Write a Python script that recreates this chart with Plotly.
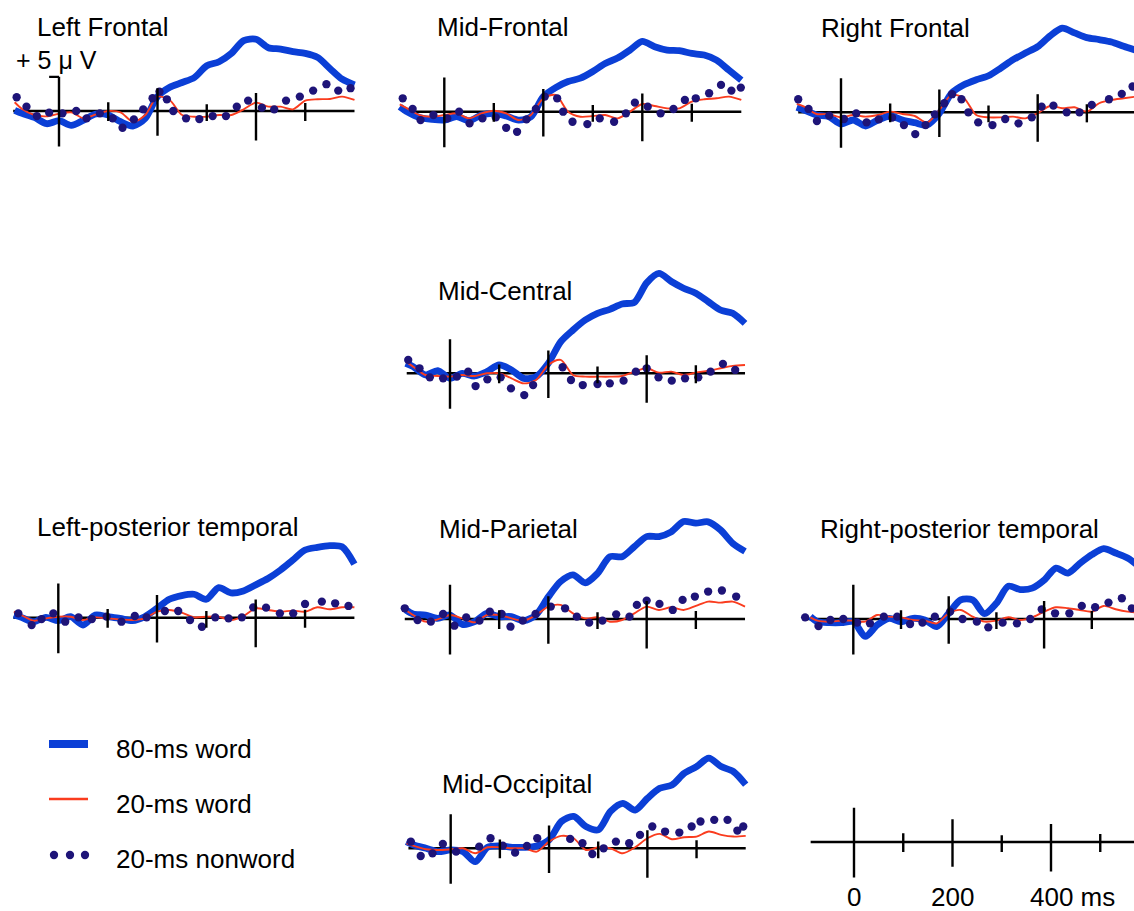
import plotly.graph_objects as go

W, H = 1134, 911
FONT = "Liberation Sans, Arial, Helvetica, sans-serif"
BLUE = "#0b3fd6"
RED = "#fa3c1e"
NAVY = "#1e1478"

# ---------------- data (ms, microvolts; positive up) ----------------
T = [-90, -75, -50, -25, 0, 25, 50, 75, 100, 125, 150, 175, 200, 225, 250, 275,
     300, 325, 350, 375, 400, 425, 450, 475, 500, 525, 550, 575, 600]

LF_80 = [0.1, -0.35, -0.95, -1.9, -1.45, -2.15, -1.35, -0.45, -0.6, -1.6, -2.25, -1.1, 2.15, 3.55, 4.25,
         5.0, 6.75, 7.35, 8.6, 10.5, 10.7, 9.45, 9.25, 8.85, 8.6, 8.0, 6.35, 4.75, 3.9]
LF_20 = [1.3, 0.3, -0.6, -0.8, -0.4, -0.2, -1.1, -0.5, 0.0, -0.2, -1.6, -0.6, 2.15, 1.6, -0.6,
         -0.85, -0.85, -0.6, -0.6, 0.25, 1.25, 0.65, 0.65, 0.25, 1.55, 1.75, 1.8, 2.15, 1.65]
LF_NW_T = [-86, -66, -45, -20, 7, 35, 56, 83, 109, 129, 152, 171, 190, 204, 219, 232, 258, 285, 312, 339,
           361, 384, 412, 437, 461, 489, 516, 543, 567, 592]
LF_NW_V = [2.05, 0.65, -0.75, -0.25, -0.35, 0, -1.1, -0.35, -1.1, -2.5, -1.25, 0.25, 1.9, 2.9, 1.75, 0,
           -1.1, -1.2, -0.75, -0.75, 0.65, 1.55, 0.5, 0.25, 1.55, 2.15, 3.05, 4.0, 3.05, 3.4]

MF_80 = [0.75, 0.0, -0.85, -1.15, -1.25, -0.75, -1.35, -0.5, -0.25, -0.65, -1.25, -0.75, 2.25, 3.6, 4.5,
         5.0, 6.0, 7.2, 8.0, 9.2, 10.5, 9.7, 9.2, 9.1, 8.7, 8.45, 7.7, 6.2, 4.7]
MF_20 = [1.1, 0.5, -0.5, -0.75, -0.5, -0.25, -1.0, -0.25, 0.15, -0.25, -1.25, -0.5, 2.0, 2.5, 0.0,
         -0.75, -0.65, -0.5, -1.0, 0.0, 1.15, 0.85, 0.5, 0.5, 1.5, 1.85, 2.0, 2.25, 1.75]
MF_NW_T = [-84, -64, -48, -22, 6, 30, 51, 77, 104, 125, 147, 166, 185, 203, 228, 240, 259, 289, 314, 343,
           367, 385, 411, 437, 463, 486, 508, 535, 559, 580, 599]
MF_NW_V = [2.0, 0.4, -1.25, -0.5, -1.0, 0, -1.75, -1.0, -0.85, -2.4, -3.0, -1.15, 0.4, 2.25, 2.0, 0,
           -1.5, -1.85, -1.0, -1.5, -0.25, 1.35, 0.75, -0.25, 0.4, 1.75, 2.0, 2.75, 4.0, 3.15, 3.6]

RF_80 = [0.75, 0.35, -0.4, -0.65, -1.75, -1.15, -2.05, -1.15, -0.55, -1.15, -1.55, -1.9, -0.15, 2.85, 4.1,
         4.85, 5.45, 6.6, 7.85, 8.85, 9.8, 11.4, 12.55, 11.85, 11.15, 10.85, 10.5, 9.85, 9.25]
RF_20 = [1.25, 0.85, -0.25, -0.25, -0.75, -0.4, -0.65, -0.4, 0.1, -0.25, -0.55, -1.55, 0.35, 2.6, 2.1,
         -0.4, -0.75, -0.75, -0.65, -0.9, -0.15, 0.95, 0.6, 0.75, 0.1, 1.35, 1.85, 2.1, 2.35]
RF_NW_T = [-87, -66, -49, -24, 6, 31, 52, 77, 104, 128, 151, 172, 191, 210, 226, 245, 259, 279, 308, 334,
           361, 388, 408, 432, 459, 485, 510, 545, 571, 593]
RF_NW_V = [1.95, 0.5, -1.3, -0.5, -1.0, -0.15, -1.5, -1.05, -0.8, -1.9, -3.25, -1.9, -0.3, 1.35, 2.7, 1.95,
           0, -1.5, -1.9, -1.0, -1.65, -0.75, 0.85, 1.0, 0, 0, 1.1, 1.95, 2.75, 3.85]

MC_80 = [1.5, 1.0, -0.25, 0.4, -0.75, 0.0, -0.4, 0.25, 1.25, 0.5, -0.75, -0.5, 1.5, 4.7, 6.45,
         7.95, 8.95, 9.55, 10.35, 10.6, 13.5, 14.9, 13.7, 12.7, 11.95, 10.7, 9.45, 8.95, 7.45]
MC_20 = [1.75, 1.0, -0.25, -0.4, -0.5, -0.25, -0.4, 0, 0, -0.75, -1.5, -1.0, 1.25, 2.0, -0.25,
         -0.5, -0.5, -0.5, -0.4, 0.25, 0.75, 0.1, 0.25, -0.25, 0.1, 0.4, 0.75, 1.1, 1.25]
MC_NW_T = [-85, -62, -41, -14, 14, 37, 52, 76, 103, 124, 151, 169, 229, 246, 270, 300, 325, 353, 378, 400,
           424, 451, 478, 505, 530, 555, 580]
MC_NW_V = [2.0, 0.75, -0.6, -0.75, -0.5, 0.25, -1.9, -0.9, -0.6, -2.25, -3.25, -1.75, 0.9, -1.0, -1.75,
           -1.6, -1.5, -1.1, 0.25, 0.75, -0.6, -1.1, -0.75, -0.6, 0.25, 1.4, 0.5]

LPT_80 = [0.4, 0.05, -0.6, 0.05, -0.45, 0.15, -1.1, 0.4, 0.15, -0.1, -0.45, 0.15, 1.4, 2.75, 3.3,
          3.5, 2.75, 4.5, 3.7, 4.0, 4.9, 5.85, 7.1, 8.6, 10.1, 10.5, 10.75, 10.6, 8.0]
LPT_20 = [0.9, 0.4, -0.45, -0.1, 0.15, 0.15, -0.35, 0.05, -0.1, -0.25, -0.35, -0.1, 0.9, 1.15, 0.75,
          0.05, 0.15, 0.15, -0.35, 0.25, 1.4, 1.15, 0.9, 1.05, 0.9, 1.55, 1.25, 1.55, 1.55]
LPT_NW_T = [-81, -54, -34, -10, 14, 41, 68, 98, 128, 155, 179, 216, 243, 267, 291, 318, 345, 372, 395, 421,
            449, 476, 500, 534, 561, 588]
LPT_NW_V = [0.65, -1.1, -0.2, 0.65, -0.6, 0.05, -0.2, 0.15, -0.6, 0.25, 0.05, 1.0, 1.0, -0.35, -1.35, 0.05,
            -0.1, 0.05, 1.55, 1.5, 0.65, 0.65, 2.05, 2.4, 2.15, 1.75]

MP_80 = [1.35, 0.75, 0.6, 0.1, 0.6, -0.8, -0.4, 0.85, 0.35, 0.35, -0.25, 0.6, 3.3, 5.6, 6.6,
         5.4, 6.8, 9.3, 9.3, 10.8, 12.3, 12.3, 13.0, 14.55, 14.3, 14.5, 13.3, 11.3, 10.1]
MP_20 = [1.35, 0.6, -0.4, -0.05, 0.6, 0.1, -0.5, 0.6, 0.6, 0.1, -0.25, 0.6, 1.85, 2.1, 0.85,
         0.1, 0.25, -0.4, -0.15, 0.85, 1.85, 1.35, 1.75, 1.35, 1.95, 2.6, 2.45, 2.6, 1.85]
MP_NW_T = [-92, -66, -39, -14, 9, 33, 60, 81, 105, 123, 148, 174, 205, 234, 258, 283, 310, 338, 365, 380,
           400, 426, 453, 473, 498, 525, 553, 582]
MP_NW_V = [1.6, -0.15, -0.4, 0.75, -1.0, 0.25, -0.25, 1.1, 0.75, -1.15, -0.25, 0.75, 1.85, 1.6, 0.35,
           -0.55, -0.25, 0.7, 0.35, 2.1, 2.75, 2.25, 1.35, 2.85, 3.35, 4.1, 4.25, 3.35]

RPT_80 = [0.35, -0.4, -0.55, -0.55, -0.4, -2.6, -0.9, 0.1, -0.4, 0.1, -0.15, -1.15, 0.85, 2.85, 2.85,
          0.8, 2.35, 4.9, 4.4, 4.6, 5.8, 7.6, 6.85, 8.3, 9.6, 10.5, 9.85, 9.1, 7.8]
RPT_20 = [0.25, -0.25, -0.4, -0.25, -0.25, -0.4, 0.6, 0.35, 0.25, -0.15, -0.25, -0.65, 0.85, 1.35, 0.35,
          -0.4, -0.25, 0.25, -0.15, 0.25, 1.1, 1.75, 1.6, 1.35, 1.1, 1.95, 1.45, 1.1, 0.95]
RPT_NW_T = [-101, -73, -48, -21, 8, 35, 64, 92, 119, 145, 171, 203, 229, 259, 283, 313, 343, 371, 395, 423,
            453, 479, 507, 535, 563, 584]
RPT_NW_V = [0.25, -1.05, -0.15, 0, -0.55, -0.65, 0.35, 0.35, -0.75, -0.55, 0.35, 1.1, 0, -0.4, -1.25,
            -0.55, -0.65, 0, 1.45, 0.85, 0.85, 1.95, 1.75, 2.45, 3.1, 1.6]

MO_80 = [1.0, 0.5, 0.0, -0.5, -0.25, -0.5, -2.0, 0.15, 0.35, 0.15, 0.15, 0.35, 1.25, 4.0, 4.75,
         3.25, 2.75, 5.5, 6.7, 5.7, 7.45, 8.95, 9.45, 11.2, 12.2, 13.45, 12.2, 11.45, 9.5]
MO_20 = [0.75, 0.35, -0.15, -0.25, -0.15, 0, -0.75, 0.15, 0.15, 0, 0, -0.5, 1.0, 1.85, 1.5,
         -0.25, 0.15, 0, -0.75, 0.15, 1.5, 2.15, 1.35, 1.65, 1.75, 2.5, 2.0, 1.75, 1.85]
MO_NW_T = [-81, -61, -37, -16, 11, 58, 81, 106, 131, 155, 176, 243, 268, 288, 311, 336, 363, 385, 410, 436,
           465, 490, 508, 536, 563, 583, 595]
MO_NW_V = [1.0, -1.15, -0.75, 0.65, -0.5, 0.25, 1.5, 0.4, -0.65, 0.35, 1.5, 1.4, 0.75, -0.85, 0, 1.0,
           0.75, 2.0, 3.25, 2.5, 2.35, 3.25, 4.0, 4.25, 4.25, 2.65, 3.25]

TITLES = ["Left Frontal", "Mid-Frontal", "Right Frontal", "Mid-Central",
          "Left-posterior temporal", "Mid-Parietal", "Right-posterior temporal", "Mid-Occipital"]
SERIES_NAMES = ["80-ms word", "20-ms word", "20-ms nonword"]
TICK_MS = [0, 100, 200, 300, 400, 500]
TICK_LO = [-5.3, -1.5, -3.7, -1.5, -4.4, -1.5]
TICK_HI = [5.1, 1.3, 3.4, 1.0, 2.7, 1.2]
SCALE_LABELS = ["0", "200", "400 ms"]
CAL_LABEL = "+ 5 \u03bc V"

PANEL_DATA = [
    (LF_80, LF_20, LF_NW_T, LF_NW_V),
    (MF_80, MF_20, MF_NW_T, MF_NW_V),
    (RF_80, RF_20, RF_NW_T, RF_NW_V),
    (MC_80, MC_20, MC_NW_T, MC_NW_V),
    (LPT_80, LPT_20, LPT_NW_T, LPT_NW_V),
    (MP_80, MP_20, MP_NW_T, MP_NW_V),
    (RPT_80, RPT_20, RPT_NW_T, RPT_NW_V),
    (MO_80, MO_20, MO_NW_T, MO_NW_V),
]

# ---------------- layout geometry (pixels) ----------------
PXUV = 6.7  # pixels per microvolt
# (x pixel of t=0, y pixel of baseline, px per ms, axis start ms, title left px, title centre y px)
GEOM = [
    (59.0, 111.0, 0.4925, -93, 35, 27),
    (444.3, 111.7, 0.495, -84, 435, 27),
    (841.0, 112.3, 0.4917, -87, 819, 27.5),
    (450.0, 373.3, 0.4917, -88, 436, 291),
    (58.3, 617.7, 0.4935, -91, 35, 526.5),
    (450.0, 619.0, 0.4917, -92, 437, 528.5),
    (853.3, 619.0, 0.477, -106, 818, 528.5),
    (450.7, 848.3, 0.4917, -86, 440, 784),
]
SCALE_GEOM = (854.0, 842.0, 0.4925, -88)

fig = go.Figure()
layout = dict(width=W, height=H, margin=dict(l=0, r=0, t=0, b=0),
              paper_bgcolor="white", plot_bgcolor="rgba(0,0,0,0)", showlegend=False,
              font=dict(family=FONT, size=26, color="black"))
shapes = []
annotations = []


def add_axes(idx, x0, yb, s):
    left_px = max(0.0, x0 - 125 * s)
    right_px = min(W, x0 + 625 * s)
    top_px = max(0.0, yb - 17 * PXUV)
    bot_px = min(H, yb + 8 * PXUV)
    sfx = "" if idx == 1 else str(idx)
    layout["xaxis" + sfx] = dict(domain=[left_px / W, right_px / W],
                                 range=[(left_px - x0) / s, (right_px - x0) / s],
                                 visible=False, fixedrange=True, anchor="y" + sfx)
    layout["yaxis" + sfx] = dict(domain=[1 - bot_px / H, 1 - top_px / H],
                                 range=[(yb - bot_px) / PXUV, (yb - top_px) / PXUV],
                                 visible=False, fixedrange=True, anchor="x" + sfx)
    return "x" + sfx, "y" + sfx


def add_time_axis(xr, yr, start):
    shapes.append(dict(type="line", xref=xr, yref=yr, x0=start, x1=600, y0=0, y1=0,
                       line=dict(color="black", width=2.5), layer="below"))
    for tm, lo, hi in zip(TICK_MS, TICK_LO, TICK_HI):
        shapes.append(dict(type="line", xref=xr, yref=yr, x0=tm, x1=tm, y0=lo, y1=hi,
                           line=dict(color="black", width=2.4)))


for i, ((w80, w20, nwt, nwv), (x0, yb, s, start, tx, ty), title) in enumerate(zip(PANEL_DATA, GEOM, TITLES), start=1):
    xr, yr = add_axes(i, x0, yb, s)
    add_time_axis(xr, yr, start)
    fig.add_trace(go.Scatter(x=T, y=w80, mode="lines", xaxis=xr, yaxis=yr, name=SERIES_NAMES[0],
                             line=dict(color=BLUE, width=6.8, shape="spline", smoothing=0.8)))
    fig.add_trace(go.Scatter(x=T, y=w20, mode="lines", xaxis=xr, yaxis=yr, name=SERIES_NAMES[1],
                             line=dict(color=RED, width=1.9, shape="spline", smoothing=0.8)))
    fig.add_trace(go.Scatter(x=nwt, y=nwv, mode="markers", xaxis=xr, yaxis=yr, name=SERIES_NAMES[2],
                             marker=dict(color=NAVY, size=8.3, line=dict(width=0))))
    annotations.append(dict(text=title, xref="paper", yref="paper", x=tx / W, y=1 - ty / H,
                            xanchor="left", yanchor="middle", showarrow=False,
                            font=dict(family=FONT, size=26, color="black")))
    if i == 1:
        # calibration flag on the zero tick
        shapes.append(dict(type="line", xref=xr, yref=yr, x0=-20, x1=0, y0=TICK_HI[0], y1=TICK_HI[0],
                           line=dict(color="black", width=2.4)))
        annotations.append(dict(text=CAL_LABEL, xref="paper", yref="paper", x=14 / W, y=1 - 60 / H,
                                xanchor="left", yanchor="middle", showarrow=False,
                                font=dict(family=FONT, size=25, color="black")))

# scale panel
sx0, syb, ss, sstart = SCALE_GEOM
xr, yr = add_axes(9, sx0, syb, ss)
add_time_axis(xr, yr, sstart)
for tm, lab in zip([0, 200, 400], SCALE_LABELS):
    last = lab == SCALE_LABELS[-1]
    annotations.append(dict(text=lab, xref=xr, yref="paper", x=tm, y=1 - 897 / H,
                            xanchor="left" if last else "center",
                            xshift=-23 if last else 0,
                            yanchor="middle", showarrow=False,
                            font=dict(family=FONT, size=26, color="black")))

# legend (pixel overlay axis)
layout["xaxis10"] = dict(domain=[0, 1], range=[0, W], visible=False, fixedrange=True, anchor="y10")
layout["yaxis10"] = dict(domain=[0, 1], range=[H, 0], visible=False, fixedrange=True, anchor="x10")
fig.add_trace(go.Scatter(x=[49, 88], y=[744, 744], mode="lines", xaxis="x10", yaxis="y10",
                         line=dict(color=BLUE, width=8), hoverinfo="skip"))
fig.add_trace(go.Scatter(x=[49, 88], y=[799, 799], mode="lines", xaxis="x10", yaxis="y10",
                         line=dict(color=RED, width=2.5), hoverinfo="skip"))
fig.add_trace(go.Scatter(x=[54, 70, 85], y=[855, 855, 855], mode="markers", xaxis="x10", yaxis="y10",
                         marker=dict(color=NAVY, size=8.3), hoverinfo="skip"))
for name, cy in zip(SERIES_NAMES, [749, 804, 859]):
    annotations.append(dict(text=name, xref="paper", yref="paper", x=114 / W, y=1 - cy / H,
                            xanchor="left", yanchor="middle", showarrow=False,
                            font=dict(family=FONT, size=26, color="black")))

layout["shapes"] = shapes
layout["annotations"] = annotations
fig.update_layout(**layout)
fig.write_html("out.html", config={"displayModeBar": False})
